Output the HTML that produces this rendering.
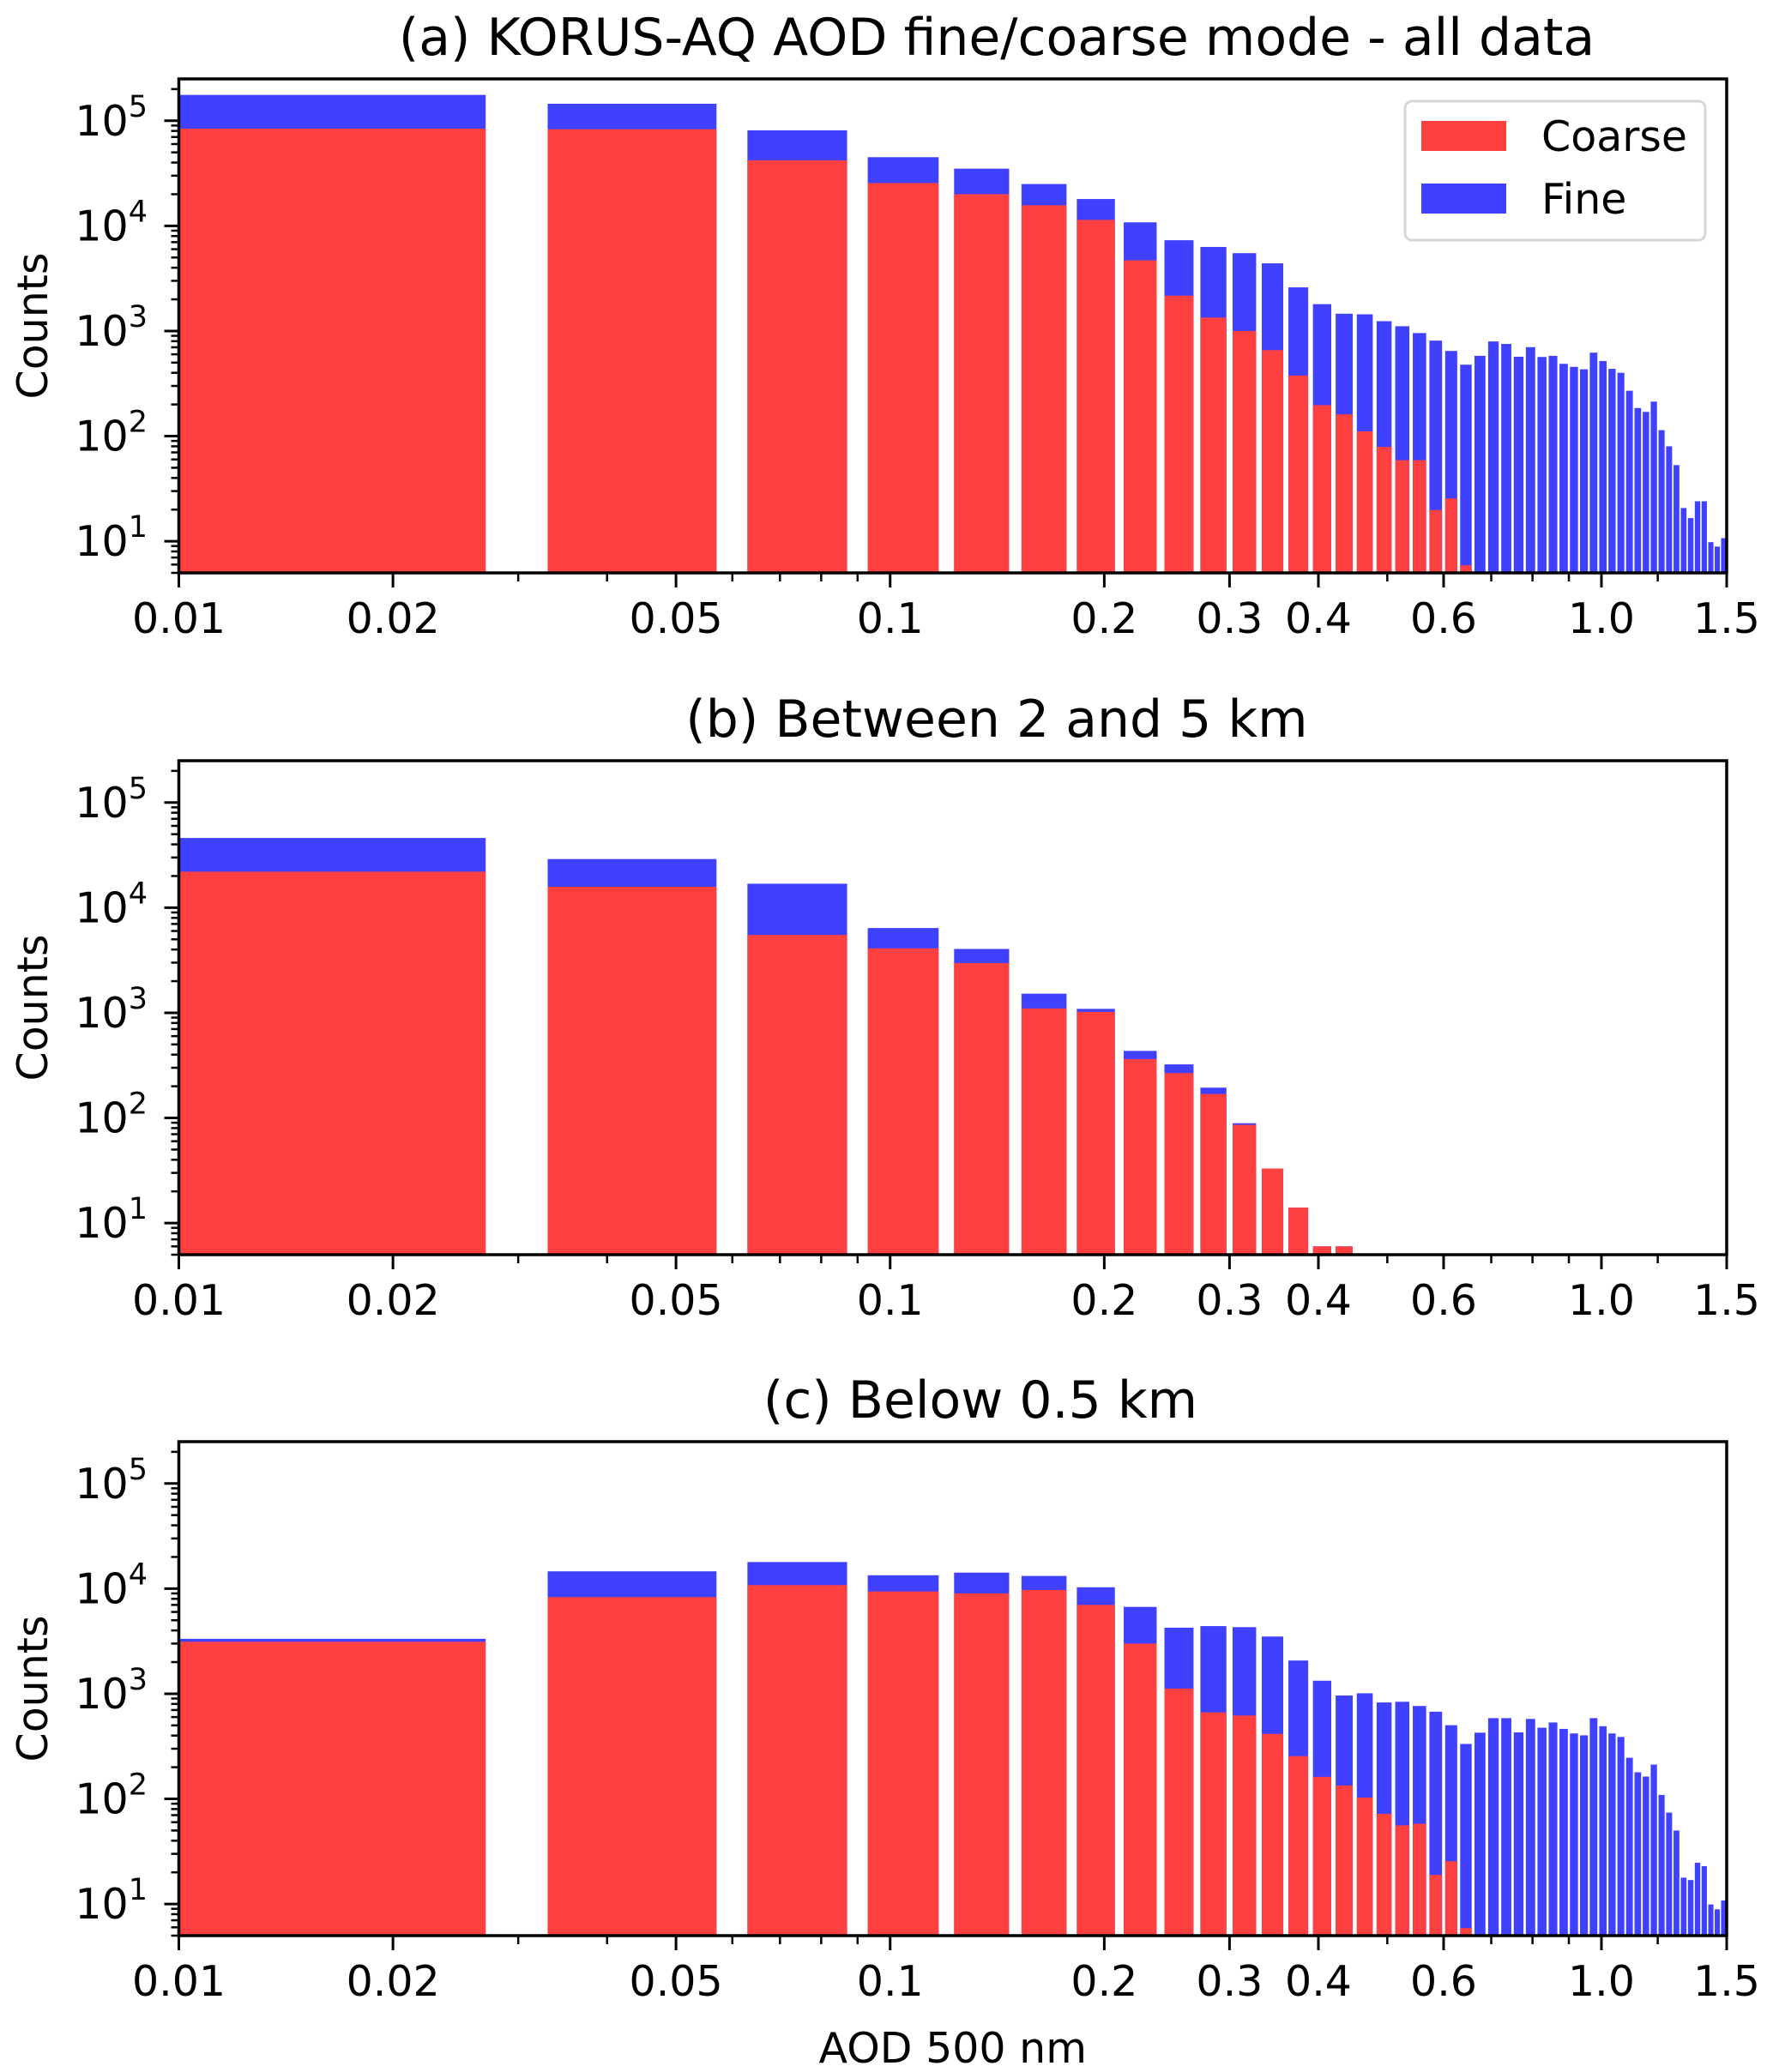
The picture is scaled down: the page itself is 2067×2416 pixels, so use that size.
<!DOCTYPE html>
<html><head><meta charset="utf-8"><title>KORUS-AQ AOD fine/coarse mode</title>
<style>
html,body{margin:0;padding:0;background:#fff;}
svg{display:block;font-family:"DejaVu Sans","Liberation Sans",sans-serif;}
</style></head>
<body>
<svg id="fig" xmlns="http://www.w3.org/2000/svg" width="2067" height="2416" viewBox="0 0 2067 2416"></svg>
<script>
const binCenters=[0.015,0.045,0.075,0.105,0.135,0.165,0.195,0.225,0.255,0.285,0.315,0.345,0.375,0.405,0.435,0.465,0.495,0.525,0.555,0.585,0.615,0.645,0.675,0.705,0.735,0.765,0.795,0.825,0.855,0.885,0.915,0.945,0.975,1.005,1.035,1.065,1.095,1.125,1.155,1.185,1.215,1.245,1.275,1.305,1.335,1.365,1.395,1.425,1.455,1.485];
const barWidth=0.024;
const coarseA=[84000,83000,42000,25500,20000,15700,11400,4700,2170,1340,1000,658,377,197,161,111,79,59,59,19.8,25.5,5.9,0,0,0,0,0,0,0,0,0,0,0,0,0,0,0,0,0,0,0,0,0,0,0,0,0,0,0,0];
const fineA=[176000,145000,81000,45000,35000,25000,18000,10800,7300,6300,5500,4400,2600,1800,1460,1440,1240,1110,955,810,646,478,580,795,753,569,702,566,580,487,456,432,622,518,436,400,270,185,170,213,114,80,53,20.7,16.6,24,24,9.8,8.9,10.7];
const coarseB=[22000,15800,5500,4100,2970,1100,1020,363,267,169,86,33,14,6,6,0,0,0,0,0,0,0,0,0,0,0,0,0,0,0,0,0,0,0,0,0,0,0,0,0,0,0,0,0,0,0,0,0,0,0];
const fineB=[46000,29000,16900,6400,4050,1520,1090,434,323,194,89,33,14,6,6,0,0,0,0,0,0,0,0,0,0,0,0,0,0,0,0,0,0,0,0,0,0,0,0,0,0,0,0,0,0,0,0,0,0,0];
const coarseC=[3120,8300,10800,9400,9000,9700,7000,3000,1120,664,621,415,255,162,134,103,72,56,58,18.9,25.5,5.9,0,0,0,0,0,0,0,0,0,0,0,0,0,0,0,0,0,0,0,0,0,0,0,0,0,0,0,0];
const fineC=[3330,14600,17900,13400,14200,13200,10300,6700,4250,4400,4300,3500,2070,1330,962,1010,826,839,765,675,502,333,426,586,586,429,576,475,533,463,419,402,586,491,419,388,246,179,163,212,109,74,50,17.8,16.9,24.7,22.9,9.9,8.9,10.8];
const xTickVals=[0.01,0.02,0.05,0.1,0.2,0.3,0.4,0.6,1.0,1.5];
const xTickLabels=["0.01","0.02","0.05","0.1","0.2","0.3","0.4","0.6","1.0","1.5"];
const xMinorVals=[0.03,0.04,0.06,0.07,0.08,0.09,0.5,0.7,0.8,0.9,1.2];
const yTickExps=[1,2,3,4,5];
const panelTitles=["(a) KORUS-AQ AOD fine/coarse mode - all data","(b) Between 2 and 5 km","(c) Below 0.5 km"];

const NS="http://www.w3.org/2000/svg";
const svg=document.getElementById('fig');
const L=208.5,R=2013,H=576,tops=[92,887,1681];
const titleCx=[1162,1162,1143];
const XMIN=0.01,XMAX=1.5,YMIN=5,YMAX=2.5e5;
const RED="#ff4040",BLUE="#4040ff";
function xS(v){return L+(Math.log10(v)-Math.log10(XMIN))/(Math.log10(XMAX)-Math.log10(XMIN))*(R-L);}
function yS(v,top){return top+(Math.log10(YMAX)-Math.log10(v))/(Math.log10(YMAX)-Math.log10(YMIN))*H;}
function mk(tag,attrs,parent){const e=document.createElementNS(NS,tag);for(const k in attrs)e.setAttribute(k,attrs[k]);(parent||svg).appendChild(e);return e;}

const defs=mk('defs',{});
const series=[[coarseA,fineA],[coarseB,fineB],[coarseC,fineC]];
series.forEach((s,p)=>{
  const top=tops[p],bot=top+H;
  const cp=mk('clipPath',{id:'clip'+p},defs);
  mk('rect',{x:L,y:top,width:R-L,height:H},cp);
  const g=mk('g',{'clip-path':'url(#clip'+p+')'});
  
  
  const draw=(arr,color,name)=>{
    arr.forEach((v,i)=>{
      if(!(v>0))return;
      const c=binCenters[i];
      const x0=xS(Math.max(c-barWidth/2,1e-4)),x1=xS(c+barWidth/2);
      const y=yS(v,top);
      const r=mk('rect',{x:x0,y:y,width:x1-x0,height:bot-y,fill:color},g);
      
      
    });
  };
  draw(s[1],BLUE,'fine');
  draw(s[0],RED,'coarse');
  const fr=mk('rect',{x:L,y:top,width:R-L,height:H,fill:'none',stroke:'#000','stroke-width':3.5});
  
  
  xTickVals.forEach((v,i)=>{
    const x=xS(v);
    mk('line',{x1:x,x2:x,y1:bot,y2:bot+17,stroke:'#000','stroke-width':3});
    const t=mk('text',{x:x,y:bot+70,'text-anchor':'middle','font-size':49,fill:'#000'});
    t.textContent=xTickLabels[i];
    
    
  });
  xMinorVals.forEach(v=>{const x=xS(v);mk('line',{x1:x,x2:x,y1:bot,y2:bot+10,stroke:'#000','stroke-width':2.5});});
  yTickExps.forEach(e=>{
    const y=yS(Math.pow(10,e),top);
    mk('line',{x1:L,x2:L-17,y1:y,y2:y,stroke:'#000','stroke-width':3});
    const t=mk('text',{x:172,y:y+17,'text-anchor':'end','font-size':49,fill:'#000'});
    t.textContent='10';
    const sp=mk('tspan',{dy:-22,'font-size':35},t);
    sp.textContent=String(e);
    
    
  });
  for(let e=0;e<=5;e++){for(let m=2;m<=9;m++){const v=m*Math.pow(10,e);if(v<YMIN||v>YMAX)continue;const y=yS(v,top);mk('line',{x1:L,x2:L-9,y1:y,y2:y,stroke:'#000','stroke-width':2.5});}}
  const yl=mk('text',{x:0,y:0,transform:'translate(55,'+(top+H/2)+') rotate(-90)','text-anchor':'middle','font-size':49,fill:'#000'});
  yl.textContent='Counts';
  
  
  const tt=mk('text',{x:titleCx[p],y:top-28,'text-anchor':'middle','font-size':60,fill:'#000'});
  tt.textContent=panelTitles[p];
  
  
});
const xt=mk('text',{x:(L+R)/2,y:2405,'text-anchor':'middle','font-size':49,fill:'#000'});
xt.textContent='AOD 500 nm';


const lg=mk('g',{});


mk('rect',{x:1638,y:118,width:350,height:162,rx:8,fill:'#fff','fill-opacity':0.8,stroke:'#d6d6d6','stroke-width':3},lg);
const e1=mk('rect',{x:1657,y:141,width:99,height:35,fill:RED},lg);


const t1=mk('text',{x:1797,y:176,'font-size':49,fill:'#000'},lg);
t1.textContent='Coarse';


const e2=mk('rect',{x:1657,y:214,width:99,height:35,fill:BLUE},lg);


const t2=mk('text',{x:1797,y:249,'font-size':49,fill:'#000'},lg);
t2.textContent='Fine';


</script>
</body></html>
